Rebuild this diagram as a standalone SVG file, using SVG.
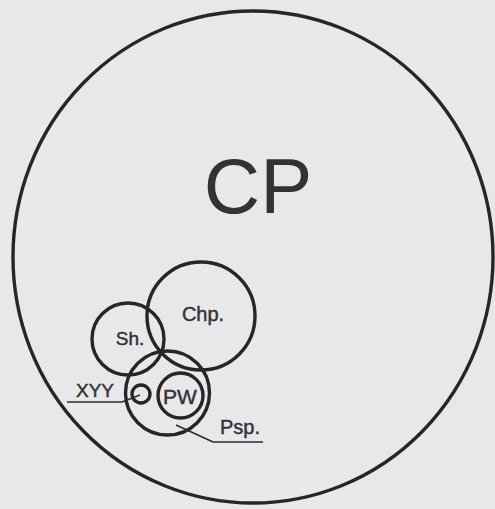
<svg xmlns="http://www.w3.org/2000/svg" width="495" height="509" viewBox="0 0 495 509">
  <style>
    .ring { fill: none; stroke: #262626; stroke-width: 3.4; }
    .lead { fill: none; stroke: #2b2b2b; stroke-width: 1.7; }
    .lbl { font-family: "Liberation Sans", Arial, sans-serif; fill: #333; text-anchor: middle; }
    .sm { stroke: #333; stroke-width: 0.45; }
  </style>
  <rect width="495" height="509" fill="#e8e8eb"/>

  <!-- outer set -->
  <g id="cp">
    <ellipse class="ring" cx="253" cy="257" rx="240" ry="246"/>
    <text class="lbl" x="258" y="213" font-size="78">CP</text>
  </g>

  <g id="chp">
    <circle class="ring" cx="201" cy="316" r="54"/>
    <text class="lbl sm" x="203" y="321" font-size="20">Chp.</text>
  </g>

  <g id="sh">
    <circle class="ring" cx="128" cy="339" r="36"/>
    <text class="lbl sm" x="130" y="345" font-size="19">Sh.</text>
  </g>

  <g id="psp">
    <circle class="ring" cx="167.5" cy="393" r="42"/>
    <text class="lbl sm" x="240" y="434" font-size="20">Psp.</text>
  </g>

  <g id="pw">
    <circle class="ring" cx="180.5" cy="395.5" r="22.5"/>
    <text class="lbl sm" x="180" y="404" font-size="21">PW</text>
  </g>

  <g id="xyy">
    <circle class="ring" cx="141" cy="394" r="9"/>
    <text class="lbl sm" x="95" y="397" font-size="19">XYY</text>
  </g>

  <!-- label leaders -->
  <g id="connectors">
    <polyline class="lead" points="67,402 122,402 140,395"/>
    <polyline class="lead" points="176,425 213,442 263,442"/>
  </g>
</svg>
